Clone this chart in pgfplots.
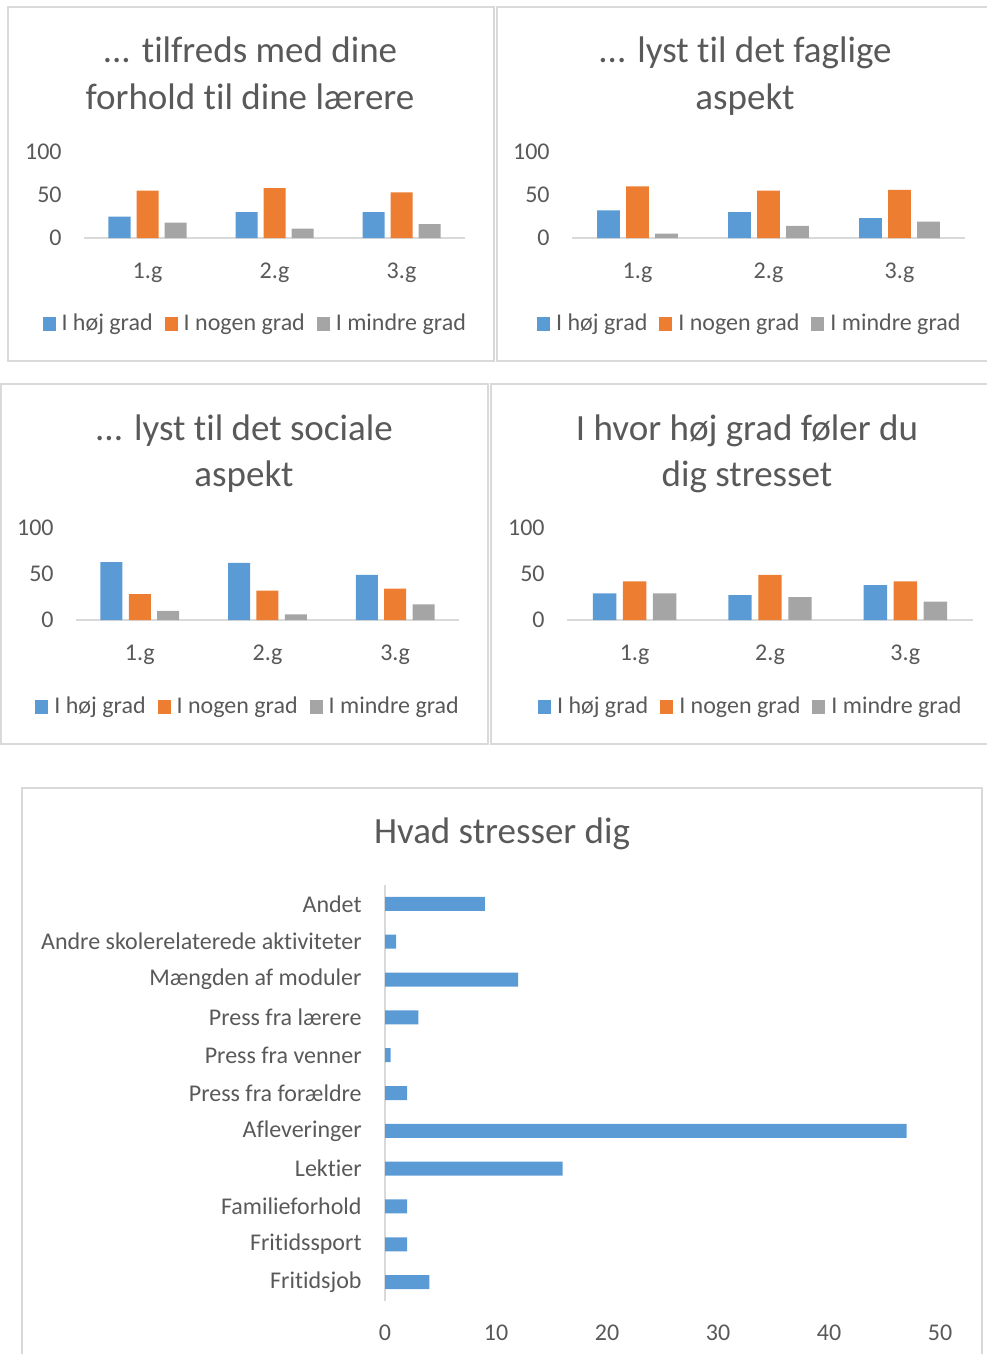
\documentclass[border=0pt]{standalone}
\usepackage{fontspec}
\setmainfont{Carlito}[Ligatures=NoCommon]
\usepackage{pgfplots}
\pgfplotsset{compat=1.18}
\definecolor{cblue}{HTML}{5B9BD5}
\definecolor{corange}{HTML}{ED7D31}
\definecolor{cgray}{HTML}{A5A5A5}
\definecolor{txt}{HTML}{595959}
\definecolor{frm}{HTML}{D9D9D9}
\newcommand{\sm}{\fontsize{12pt}{14pt}\selectfont}
\newcommand{\ttl}{\fontsize{18.5pt}{24pt}\selectfont}
\pgfplotsset{
 pan/.style={
  scale only axis, anchor=south west,
  ymin=0, ymax=100, ytick={0,50,100},
  xmin=-0.5, xmax=2.5, xtick={0,1,2}, xticklabels={1.g,2.g,3.g},
  axis x line*=bottom, axis y line*=left,
  x axis line style={draw=frm, line width=1pt},
  y axis line style={draw=none},
  major tick length=0pt,
  tick label style={font=\sm, text=txt},
  yticklabel style={inner sep=0pt, anchor=east, xshift=-11pt},
  xticklabel style={inner sep=0pt, anchor=north, yshift=-12.5pt},
  /pgf/number format/assume math mode=true,
  legend columns=3,
  legend style={draw=none, fill=none, font=\sm, text=txt, anchor=center,
    /tikz/every even column/.append style={column sep=4pt}},
  clip=false,
 },
 sqleg/.style={legend image code/.code={\fill[##1] (0pt,-3.3pt) rectangle (6.5pt,3.3pt); \path (7.5pt,0pt);}},
}
\begin{document}
\begin{tikzpicture}
\path[use as bounding box] (0,0) rectangle (493pt,-677pt);
% frames
\draw[frm, line width=0.75pt] (4pt,-3.5pt) rectangle (247pt,-180.5pt);
\draw[frm, line width=0.75pt] (248.5pt,-3.5pt) rectangle (496pt,-180.5pt);
\draw[frm, line width=0.75pt] (0.5pt,-192pt) rectangle (244pt,-372pt);
\draw[frm, line width=0.75pt] (245.5pt,-192pt) rectangle (496pt,-372pt);
\draw[frm, line width=0.75pt] (11pt,-394pt) rectangle (491pt,-690pt);
% titles
\begin{scope}[every node/.style={text=txt, font=\ttl, anchor=base, inner sep=0pt}]
\node at (125pt,-31.5pt) {... tilfreds med dine};
\node at (125pt,-55pt) {forhold til dine lærere};
\node at (372.5pt,-31.5pt) {... lyst til det faglige};
\node at (372.5pt,-55pt) {aspekt};
\node at (122pt,-220pt) {... lyst til det sociale};
\node at (122pt,-243.2pt) {aspekt};
\node at (373.5pt,-220pt) {I hvor høj grad føler du};
\node at (373.5pt,-243.2pt) {dig stresset};
\node at (251pt,-421.5pt) {Hvad stresser dig};
\end{scope}

% panel 1
\begin{axis}[pan, at={(42pt,-119pt)}, width=190.5pt, height=43pt,
  ybar=3pt, bar width=11pt, sqleg, legend style={at={(0.452,-1.0)}}]
\addplot[fill=cblue, draw=none] coordinates {(0,25) (1,30) (2,30)};
\addplot[fill=corange, draw=none] coordinates {(0,55) (1,58) (2,53)};
\addplot[fill=cgray, draw=none] coordinates {(0,18) (1,11) (2,16)};
\legend{I høj grad, I nogen grad, I mindre grad}
\end{axis}

% panel 2
\begin{axis}[pan, at={(286pt,-119pt)}, width=196.5pt, height=43pt,
  ybar=3.2pt, bar width=11.3pt, sqleg, legend style={at={(0.455,-1.0)}}]
\addplot[fill=cblue, draw=none] coordinates {(0,32) (1,30) (2,23)};
\addplot[fill=corange, draw=none] coordinates {(0,60) (1,55) (2,56)};
\addplot[fill=cgray, draw=none] coordinates {(0,5) (1,14) (2,19)};
\legend{I høj grad, I nogen grad, I mindre grad}
\end{axis}

% panel 3
\begin{axis}[pan, at={(38pt,-310pt)}, width=191.5pt, height=46pt,
  ybar=3.2pt, bar width=11pt, sqleg, legend style={at={(0.452,-0.946)}}]
\addplot[fill=cblue, draw=none] coordinates {(0,63) (1,62) (2,49)};
\addplot[fill=corange, draw=none] coordinates {(0,28) (1,32) (2,34)};
\addplot[fill=cgray, draw=none] coordinates {(0,10) (1,6) (2,17)};
\legend{I høj grad, I nogen grad, I mindre grad}
\end{axis}

% panel 4
\begin{axis}[pan, at={(283.5pt,-310pt)}, width=203pt, height=46pt,
  ybar=3.3pt, bar width=11.7pt, sqleg, legend style={at={(0.455,-0.946)}}]
\addplot[fill=cblue, draw=none] coordinates {(0,29) (1,27) (2,38)};
\addplot[fill=corange, draw=none] coordinates {(0,42) (1,49) (2,42)};
\addplot[fill=cgray, draw=none] coordinates {(0,29) (1,25) (2,20)};
\legend{I høj grad, I nogen grad, I mindre grad}
\end{axis}

% bottom chart
\begin{axis}[scale only axis, anchor=south west, at={(192.5pt,-650.5pt)},
  width=277.5pt, height=208pt,
  xbar, bar width=7pt,
  xmin=0, xmax=50, xtick={0,10,...,50},
  ymin=-0.5, ymax=10.5, ytick={0,...,10},
  yticklabels={Fritidsjob, Fritidssport, Familieforhold, Lektier, Afleveringer, Press fra forældre, Press fra venner, Press fra lærere, Mængden af moduler, Andre skolerelaterede aktiviteter, Andet},
  axis x line*=bottom, axis y line*=left,
  x axis line style={draw=none},
  y axis line style={draw=frm, line width=1pt},
  major tick length=0pt,
  tick label style={font=\sm, text=txt},
  yticklabel style={inner sep=0pt, anchor=east, xshift=-11.5pt},
  xticklabel style={inner sep=0pt, anchor=north, yshift=-12pt},
  /pgf/number format/assume math mode=true,
  clip=false]
\addplot[fill=cblue, draw=none] coordinates {(4,0) (2,1) (2,2) (16,3) (47,4) (2,5) (0.5,6) (3,7) (12,8) (1,9) (9,10)};
\end{axis}
\end{tikzpicture}
\end{document}
